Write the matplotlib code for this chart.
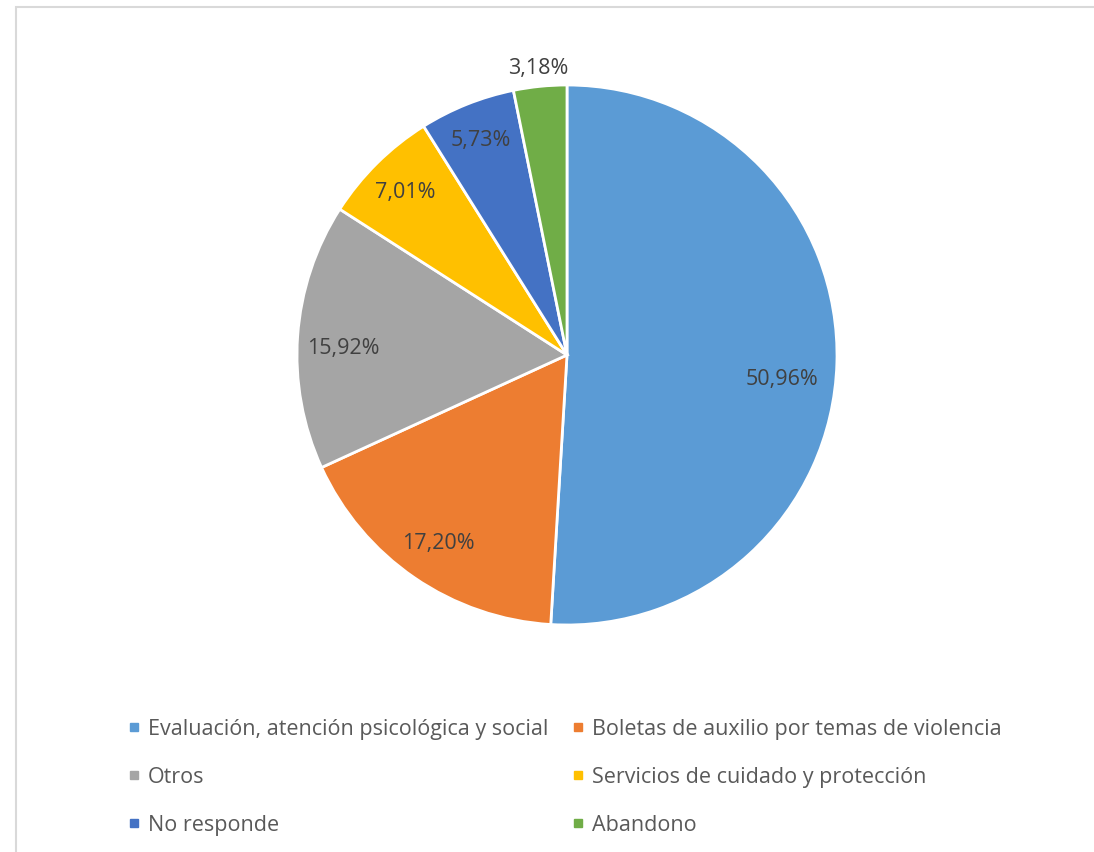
import matplotlib.pyplot as plt
import numpy as np
from matplotlib.lines import Line2D
from matplotlib.patches import Rectangle

labels = ["Evaluación, atención psicológica y social",
          "Boletas de auxilio por temas de violencia",
          "Otros",
          "Servicios de cuidado y protección",
          "No responde",
          "Abandono"]
values = [50.96, 17.20, 15.92, 7.01, 5.73, 3.18]
colors = ["#5B9BD5", "#ED7D31", "#A5A5A5", "#FFC000", "#4472C4", "#70AD47"]

plt.rcParams['font.family'] = ['Open Sans', 'DejaVu Sans']

W, H = 1094, 853
fig = plt.figure(figsize=(W / 100, H / 100), dpi=100)

# chart area border (light gray, only top/left visible)
fig.patches.append(Rectangle((16 / W, -0.05), 1.2, 1 - 8 / H + 0.05,
                             transform=fig.transFigure, fill=False,
                             edgecolor="#D9D9D9", linewidth=1.5))

cx, cy, r = 567, 853 - 356, 270
ax = fig.add_axes([(cx - r) / W, (cy - r) / H, 2 * r / W, 2 * r / H])
wedges, texts = ax.pie(values, colors=colors, startangle=90, counterclock=False,
                       wedgeprops=dict(edgecolor="white", linewidth=2))
ax.set_xlim(-1, 1)
ax.set_ylim(-1, 1)
ax.set_aspect("equal")
ax.axis("off")

# data labels (Excel best fit: inside, small one outside)
dists = [0.80, 0.84, 0.83, 0.85, 0.86, 1.07]
shift = [-4.5, 0, 2, 0, 0, 0]
for w, v, d, s in zip(wedges, values, dists, shift):
    ang = np.deg2rad((w.theta1 + w.theta2) / 2 + s)
    ax.text(d * np.cos(ang), d * np.sin(ang), f"{v:.2f}%".replace(".", ","),
            ha="center", va="center", fontsize=15.5, color="#404040")

# legend filled row by row like Excel
order = [0, 2, 4, 1, 3, 5]
handles = [Line2D([], [], marker="s", linestyle="none", markersize=5.5,
                  markerfacecolor=colors[i], markeredgecolor=colors[i]) for i in order]
fig.legend(handles, [labels[i] for i in order], ncol=2, loc="upper left",
           bbox_to_anchor=(108 / W, 1 - 700 / H), frameon=False,
           fontsize=15.5, labelcolor="#595959", handlelength=0.6,
           handletextpad=0.35, columnspacing=1.1, labelspacing=1.25)

fig.savefig("out.png", dpi=100)
